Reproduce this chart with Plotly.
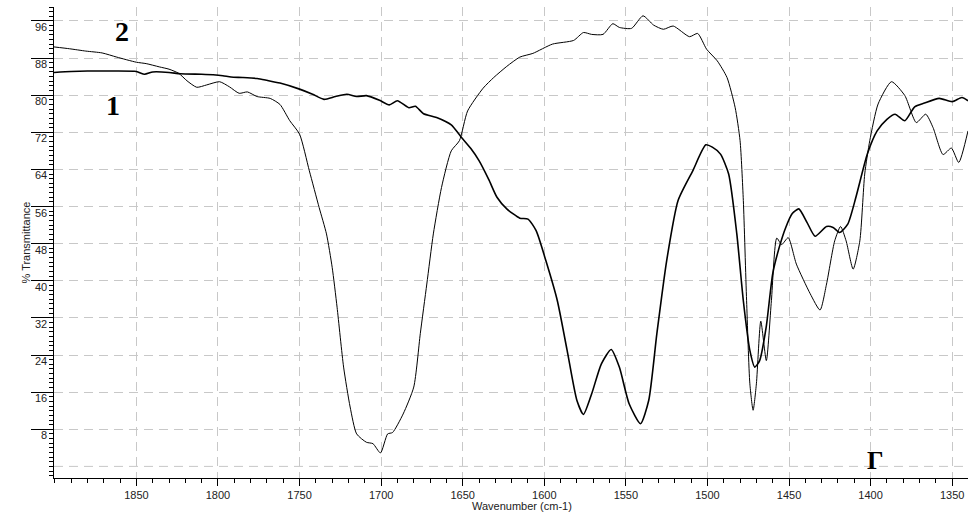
import plotly.graph_objects as go

# Curve 1 (thicker line)
wn1 = [1900.5, 1890, 1880, 1865, 1850, 1845, 1840, 1830, 1823, 1810, 1803, 1797, 1792, 1785,
       1776, 1770, 1762, 1750, 1742, 1735, 1728, 1721, 1715, 1709, 1701, 1695, 1690, 1683,
       1679, 1674, 1666, 1657, 1651, 1645, 1640, 1634, 1629, 1623, 1615, 1610, 1605, 1599,
       1592, 1586, 1580, 1576, 1571, 1565, 1559, 1554, 1548, 1541, 1536, 1531, 1525, 1518,
       1509, 1501, 1497, 1492, 1487, 1482, 1478, 1474, 1471, 1468, 1464, 1460, 1456, 1452,
       1448, 1444, 1439, 1434, 1427, 1423, 1419, 1414, 1409, 1402, 1396, 1390, 1385, 1379,
       1373, 1367, 1358, 1350, 1344, 1340.3]
t1 = [84.9, 85.1, 85.2, 85.2, 85.1, 84.5, 85.0, 84.9, 84.6, 84.5, 84.4, 84.2, 83.9, 83.8,
      83.6, 83.2, 82.6, 81.3, 80.2, 79.1, 79.7, 80.2, 79.7, 79.9, 78.9, 77.9, 78.8, 77.3,
      77.6, 76.0, 75.2, 73.6, 71.0, 68.5, 65.9, 61.8, 58.0, 55.5, 53.5, 53.3, 50.8, 44.3,
      35.7, 25.0, 14.2, 11.2, 15.6, 22.1, 25.2, 21.4, 13.5, 9.2, 14.2, 28.6, 44.3, 57.3,
      63.7, 69.3, 68.8, 67.3, 63.0, 50.1, 35.7, 25.0, 21.4, 22.8, 30.0, 41.5, 47.2, 51.5,
      54.5, 55.5, 52.6, 49.6, 51.7, 51.5, 50.4, 52.2, 58.0, 67.3, 72.3, 74.8, 75.9, 74.5,
      77.5, 78.3, 79.3, 78.6, 79.5, 78.8]

# Curve 2 (thinner line)
wn2 = [1900.5, 1891, 1881, 1871, 1862, 1850, 1844, 1836, 1830, 1824, 1819, 1813, 1807, 1799,
       1793, 1787, 1782, 1776, 1768, 1762, 1756, 1750, 1744, 1738, 1733.5, 1730, 1727, 1723,
       1719, 1715, 1709, 1705, 1700.4, 1696, 1693, 1686.5, 1680, 1676, 1672, 1668, 1663,
       1657, 1652, 1647, 1637.5, 1631, 1623, 1615, 1607, 1595, 1582, 1576, 1571, 1564, 1558,
       1554, 1546.5, 1539.5, 1533, 1527, 1521, 1511, 1506, 1500.5, 1494, 1488, 1483, 1480,
       1478, 1476, 1474, 1472, 1470, 1467.3, 1463.9, 1460.8, 1457.5, 1454.5, 1450.5, 1445.5,
       1437, 1431, 1427, 1422, 1418.4, 1415, 1410.7, 1406.6, 1403.6, 1400.5, 1395.4, 1387.2,
       1379, 1372, 1366.2, 1361.7, 1355.6, 1350.5, 1346, 1340.3]
t2 = [90.4, 90.0, 89.5, 89.1, 88.2, 87.1, 86.8, 86.1, 85.6, 84.7, 83.1, 81.7, 82.2, 82.9,
      81.8, 80.4, 80.7, 79.7, 79.3, 78.0, 74.5, 71.6, 63.7, 55.8, 50.1, 42.9, 34.3, 21.4,
      12.8, 7.0, 5.2, 4.9, 2.9, 7.0, 7.3, 11.3, 17.1, 28.6, 39.3, 50.1, 60.1,
      68.0, 70.2, 76.6, 81.5, 83.8, 86.2, 88.2, 89.0, 91.0, 91.8, 93.5, 93.1, 93.1, 95.4,
      94.6, 94.4, 97.1, 95.1, 94.2, 94.9, 92.6, 93.3, 89.9, 87.4, 83.8, 77.3, 70.2,
      57.3, 35.7, 17.8, 12.1, 17.8, 31.3, 22.8, 35.7, 49.2, 47.8, 49.3, 43.6,
      37.2, 33.7, 39.3, 48.6, 51.7, 48.6, 42.5, 48.6, 63.0, 70.2, 78.1, 82.9,
      79.9, 74.1, 75.9, 73.0, 67.2, 68.6, 65.5, 72.3]

x_ticks = [1850, 1800, 1750, 1700, 1650, 1600, 1550, 1500, 1450, 1400, 1350]
y_ticks = [8, 16, 24, 32, 40, 48, 56, 64, 72, 80, 88, 96]
x_range = [1900.5, 1340.3]
y_range = [-2.5, 99]

labels = [("2", 1859, 93.8), ("1", 1864.5, 77.7), ("Г", 1396.7, 1.3)]

fig = go.Figure()
fig.add_trace(go.Scatter(x=wn1, y=t1, mode="lines",
                         line=dict(color="black", width=1.6, shape="spline", smoothing=0.6),
                         showlegend=False, hoverinfo="skip"))
fig.add_trace(go.Scatter(x=wn2, y=t2, mode="lines",
                         line=dict(color="black", width=1.0, shape="spline", smoothing=0.6),
                         showlegend=False, hoverinfo="skip"))

grid = dict(showgrid=True, gridcolor="#c8c8c8", gridwidth=1, griddash="9px,6px")

fig.update_xaxes(range=x_range, tickvals=x_ticks, ticktext=[str(v) for v in x_ticks],
                 ticks="outside", ticklen=7, tickcolor="black", tickwidth=1,
                 showline=True, linecolor="black", linewidth=1, zeroline=False,
                 minor=dict(dtick=10, tick0=1350, ticks="outside", ticklen=4, tickcolor="black", showgrid=False),
                 tickfont=dict(family="Liberation Sans, Arial", size=11, color="#222"),
                 **grid)
fig.update_yaxes(range=y_range, tickvals=y_ticks, showticklabels=False,
                 ticks="outside", ticklen=22, tickcolor="black", tickwidth=1,
                 showline=True, linecolor="black", linewidth=1, zeroline=False,
                 minor=dict(dtick=1, tick0=0, ticks="outside", ticklen=4, tickcolor="black", showgrid=False),
                 **grid)

# gridline at 0
fig.add_shape(type="line", xref="paper", yref="y", x0=0, x1=1, y0=0, y1=0,
              line=dict(color="#c8c8c8", width=1, dash="9px,6px"), layer="below")

anns = []
for v in y_ticks:
    anns.append(dict(x=0, xref="paper", y=v, yref="y", text=str(v), showarrow=False,
                     xanchor="right", yanchor="middle", xshift=-5, yshift=-6,
                     font=dict(family="Liberation Sans, Arial", size=11, color="#222")))
anns.append(dict(x=0, xref="paper", y=0.5, yref="paper", text="% Transmittance", showarrow=False,
                 textangle=-90, xanchor="center", yanchor="middle", xshift=-29,
                 font=dict(family="Liberation Sans, Arial", size=11, color="#222")))
anns.append(dict(x=0.512, xref="paper", y=0, yref="paper", text="Wavenumber (cm-1)", showarrow=False,
                 xanchor="center", yanchor="middle", yshift=-28,
                 font=dict(family="Liberation Sans, Arial", size=11, color="#222")))
for txt, xv, yv in labels:
    anns.append(dict(x=xv, y=yv, xref="x", yref="y", text="<b>%s</b>" % txt, showarrow=False,
                     xanchor="center", yanchor="middle",
                     font=dict(family="Liberation Serif, Times New Roman", size=28 if txt != "Г" else 26,
                               color="black")))
fig.update_layout(annotations=anns, width=970, height=513,
                  margin=dict(l=54, r=2, t=7, b=35),
                  plot_bgcolor="white", paper_bgcolor="white")

fig.write_html("out.html")
